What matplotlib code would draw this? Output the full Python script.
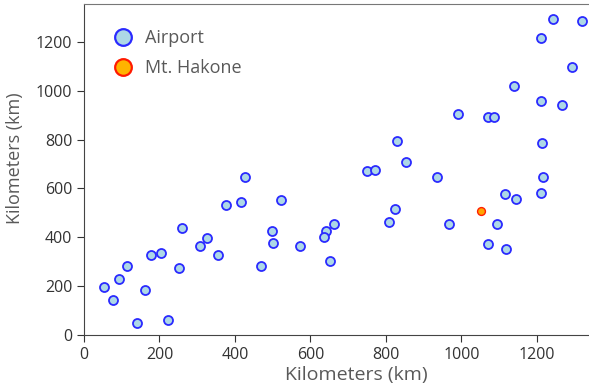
import matplotlib
matplotlib.use("Agg")
import matplotlib.pyplot as plt
from matplotlib.lines import Line2D

plt.rcParams['font.family'] = ['Open Sans', 'DejaVu Sans']

airport_x = [53, 78, 94, 113, 162, 141, 178, 203, 223, 251, 259, 306, 327, 356, 375, 415,
             426, 468, 497, 500, 521, 571, 641, 636, 661, 652, 809, 825, 966, 1095, 1070,
             1119, 1115, 1144, 1212, 1243, 1319, 1211, 1294, 1138, 1211, 1267, 990, 1070,
             1087, 828, 1214, 853, 749, 770, 934, 1215]
airport_y = [198, 142, 229, 284, 186, 48, 328, 335, 61, 273, 439, 364, 396, 328, 532, 545,
             646, 284, 427, 377, 551, 366, 427, 403, 453, 304, 464, 515, 453, 453, 373,
             353, 577, 557, 583, 1293, 1286, 1217, 1099, 1018, 957, 943, 906, 894,
             894, 794, 788, 707, 670, 676, 646, 646]
hakone_x = [1053]
hakone_y = [509]

x_ticks = [0, 200, 400, 600, 800, 1000, 1200]
y_ticks = [0, 200, 400, 600, 800, 1000, 1200]

W, H = 589, 391
ax_left, ax_bottom, ax_w, ax_h = 84, 56, 516, 331

fig = plt.figure(figsize=(W/100, H/100), dpi=100)
ax = fig.add_axes([ax_left/W, ax_bottom/H, ax_w/W, ax_h/H])

ax.scatter(airport_x, airport_y, s=42, facecolor='#add8e6', edgecolor='#2a2aff',
           linewidths=1.3, zorder=3)
ax.scatter(hakone_x, hakone_y, s=32, facecolor='#ffa500', edgecolor='#ff2000',
           linewidths=1.0, zorder=3)

ax.set_xlim(0, 1367)
ax.set_ylim(0, 1355)
ax.set_xticks(x_ticks)
ax.set_yticks(y_ticks)
ax.tick_params(labelsize=11.5, colors='#333333', length=5)
for s in ax.spines.values():
    s.set_color('#444444')
ax.spines['top'].set_color('#777777')
ax.spines['right'].set_visible(False)

ax.set_xlabel('Kilometers (km)', fontsize=14, color='#595959')
ax.set_ylabel('Kilometers (km)', fontsize=13, color='#595959')
ax.xaxis.set_label_coords((356 - ax_left)/ax_w, -(375 - (H - ax_bottom))/ax_h - 0.0)
ax.yaxis.set_label_coords(-(ax_left - 15)/ax_w, ((H - ax_bottom) - 158)/ax_h)
ax.xaxis.label.set_va('center')
ax.yaxis.label.set_va('center')

handles = [
    Line2D([], [], linestyle='none', marker='o', markersize=12, markerfacecolor='#add8e6',
           markeredgecolor='#2a2aff', markeredgewidth=1.6),
    Line2D([], [], linestyle='none', marker='o', markersize=12, markerfacecolor='#ffb300',
           markeredgecolor='#ff1a00', markeredgewidth=1.6),
]
leg = ax.legend(handles, ['Airport', 'Mt. Hakone'], loc='upper left', frameon=False,
                fontsize=13, handletextpad=0.3, handlelength=1.8, borderaxespad=0.6,
                labelspacing=0.67, bbox_to_anchor=(0.010, 0.979))
for t in leg.get_texts():
    t.set_color('#595959')

fig.savefig('out.png', dpi=100)
